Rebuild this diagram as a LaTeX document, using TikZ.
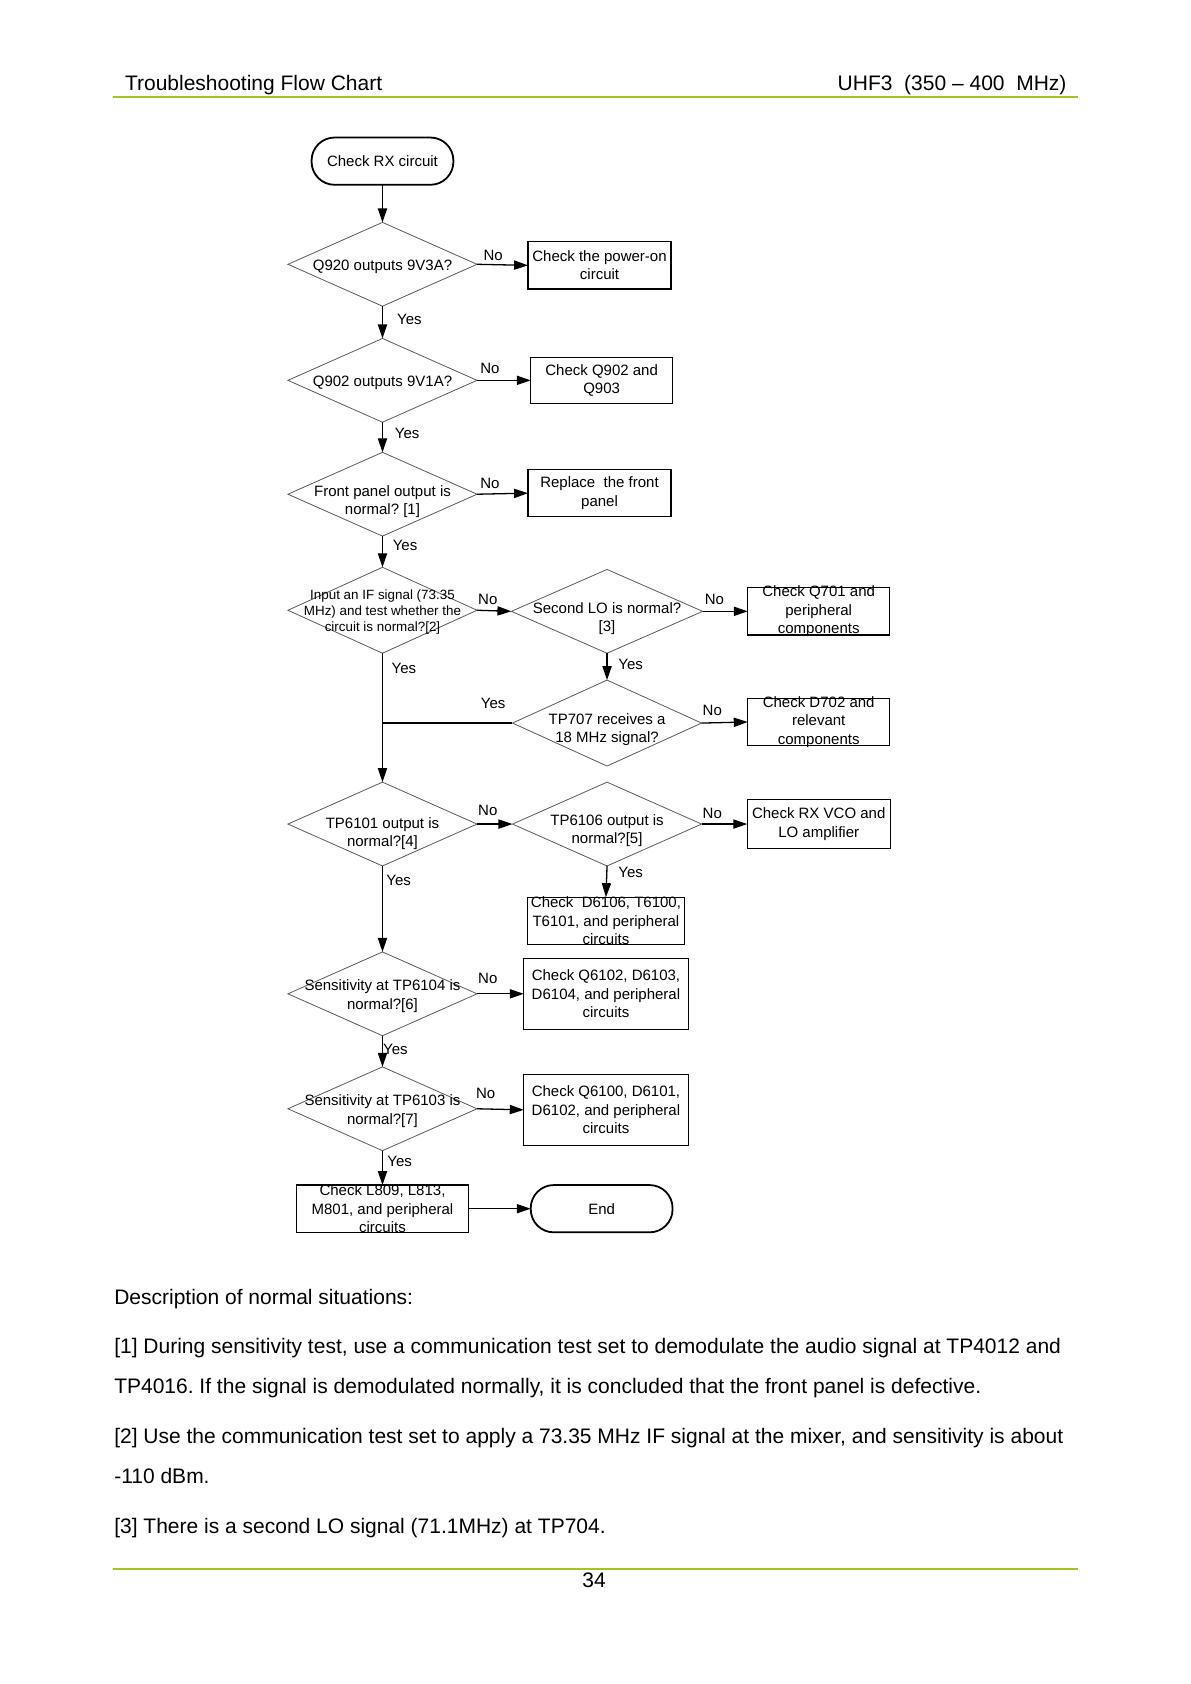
\documentclass[tikz,border=0pt]{standalone}
\usepackage{fontspec}
\setmainfont{Liberation Sans}
\usetikzlibrary{shapes.geometric,arrows.meta}
\newdimen\pxu \pxu=0.5372pt
\definecolor{hdrgreen}{RGB}{162,196,34}
\newcommand\fcfont{\fontsize{7.5}{9.2}\selectfont}
\newcommand\fcsmall{\fontsize{6.7}{8}\selectfont}
\newcommand\bodyfont{\fontsize{10.5}{12}\selectfont}
\frenchspacing
\begin{document}
\begin{tikzpicture}[x=0.5372pt,y=-0.5372pt,
  dia/.style={diamond, draw=black!65, line width=0.4pt, minimum width=176\pxu, minimum height=78\pxu, inner sep=0pt, outer sep=0pt},
  box/.style={rectangle, draw=black, line width=0.6pt, inner sep=0pt, outer sep=0pt},
  term/.style={rectangle, rounded corners=11.5pt, draw=black, line width=0.9pt, minimum width=132\pxu, minimum height=44\pxu, inner sep=0pt, outer sep=0pt, font=\fcfont},
  txt/.style={font=\fcfont, align=center, inner sep=0pt},
  lbl/.style={font=\fcfont, inner sep=0pt},
  body/.style={font=\bodyfont, anchor=base west, inner sep=0pt},
  arr/.style={-{Triangle[length=7pt,width=4.6pt]}, line width=0.65pt},
  ln/.style={line width=0.65pt},
  rule/.style={draw=hdrgreen, line width=1.1pt}]
\useasboundingbox (0,0) rectangle (1108.2,1567.4);
% header
\node[font=\bodyfont, anchor=base west, inner sep=0pt] (hl) at (116,84) {Troubleshooting Flow Chart};
\node[font=\bodyfont, anchor=base east, inner sep=0pt] (hr) at (993,84) {UHF3\ \ (350 – 400\ \ MHz)};
\coordinate (r1a) at (105,90); \coordinate (r1b) at (1003,90);
\draw[rule] (r1a) -- (r1b);
% flowchart shapes
\node[term] (start) at (356,150) {Check RX circuit};
\node[dia] (d1) at (356,246) {};
\node[txt] (d1t) at (356,248) {Q920 outputs 9V3A?};
\node[box, minimum width=133\pxu, minimum height=44\pxu] (b1) at (558,247) {};
\node[txt] (b1t) at (b1.center) {Check the power-on\\circuit};
\node[dia] (d2) at (356,354) {};
\node[txt] (d2t) at (356,356) {Q902 outputs 9V1A?};
\node[box, minimum width=132\pxu, minimum height=43\pxu] (b2) at (560,354) {};
\node[txt] (b2t) at (b2.center) {Check Q902 and\\Q903};
\node[dia] (d3) at (356,460) {};
\node[txt] (d3t) at (356,467) {Front panel output is\\normal? [1]};
\node[box, minimum width=133\pxu, minimum height=44\pxu] (b3) at (558,459) {};
\node[txt] (b3t) at (b3.center) {Replace\ \ the front\\panel};
\node[dia, minimum height=80\pxu] (d4) at (356,568) {};
\node[txt, font=\fcsmall] (d4t) at (356,570) {Input an IF signal (73.35\\MHz) and test whether the\\circuit is normal?[2]};
\node[dia, minimum width=178\pxu] (d5) at (565,569) {};
\node[txt] (d5t) at (565,576) {Second LO is normal?\\{[3]}};
\node[box, minimum width=132\pxu, minimum height=44\pxu] (b5) at (762,569) {};
\node[txt] (b5t) at (b5.center) {Check Q701 and\\peripheral\\components};
\node[dia, minimum height=80\pxu] (d6) at (565,673) {};
\node[txt] (d6t) at (565,679) {TP707 receives a\\18 MHz signal?};
\node[box, minimum width=132\pxu, minimum height=44\pxu] (b6) at (762,672) {};
\node[txt] (b6t) at (b6.center) {Check D702 and\\relevant\\components};
\coordinate (j) at (356,673);
\node[dia] (d7) at (356,767) {};
\node[txt] (d7t) at (356,776) {TP6101 output is\\normal?[4]};
\node[dia] (d8) at (565,767) {};
\node[txt] (d8t) at (565,773) {TP6106 output is\\normal?[5]};
\node[box, minimum width=133\pxu, minimum height=45\pxu] (b8) at (762,767) {};
\node[txt] (b8t) at (b8.center) {Check RX VCO and\\LO amplifier};
\node[box, minimum width=146\pxu, minimum height=44\pxu] (b8y) at (564,857) {};
\node[txt] (b8yt) at (b8y.center) {Check\ \ D6106, T6100,\\T6101, and peripheral\\circuits};
\node[dia] (d9) at (356,925) {};
\node[txt] (d9t) at (356,927) {Sensitivity at TP6104 is\\normal?[6]};
\node[box, minimum width=153\pxu, minimum height=66\pxu] (b9) at (564,925) {};
\node[txt] (b9t) at (b9.center) {Check Q6102, D6103,\\D6104, and peripheral\\circuits};
\node[dia] (d10) at (356,1032) {};
\node[txt] (d10t) at (356,1034) {Sensitivity at TP6103 is\\normal?[7]};
\node[box, minimum width=153\pxu, minimum height=66\pxu] (b10) at (564,1033) {};
\node[txt] (b10t) at (b10.center) {Check Q6100, D6101,\\D6102, and peripheral\\circuits};
\node[box, minimum width=160\pxu, minimum height=44\pxu] (b11) at (356,1125) {};
\node[txt] (b11t) at (b11.center) {Check L809, L813,\\M801, and peripheral\\circuits};
\node[term] (end) at (560,1125) {End};
% connectors
\draw[arr] (start.south) -- (d1.north);
\draw[arr] (d1.east) -- (b1.west);
\draw[arr] (d1.south) -- (d2.north);
\draw[arr] (d2.east) -- (b2.west);
\draw[arr] (d2.south) -- (d3.north);
\draw[arr] (d3.east) -- (b3.west);
\draw[arr] (d3.south) -- (d4.north);
\draw[arr] (d4.east) -- (d5.west);
\draw[arr] (d5.east) -- (b5.west);
\draw[arr] (d5.south) -- (d6.north);
\draw[arr] (d6.east) -- (b6.west);
\draw[ln] (d4.south) -- (j);
\draw[ln] (d6.west) -- (j);
\draw[arr] (j) -- (d7.north);
\draw[arr] (d7.east) -- (d8.west);
\draw[arr] (d8.east) -- (b8.west);
\draw[arr] (d8.south) -- (b8y.north);
\draw[arr] (d7.south) -- (d9.north);
\draw[arr] (d9.east) -- (b9.west);
\draw[arr] (d9.south) -- (d10.north);
\draw[arr] (d10.east) -- (b10.west);
\draw[arr] (d10.south) -- (b11.north);
\draw[arr] (b11.east) -- (end.west);
% labels
\node[lbl] (l1) at (459,238) {No};
\node[lbl] (l2) at (381,297) {Yes};
\node[lbl] (l3) at (456,343) {No};
\node[lbl] (l4) at (379,403) {Yes};
\node[lbl] (l5) at (456,450) {No};
\node[lbl] (l6) at (377,508) {Yes};
\node[lbl] (l7) at (454,558) {No};
\node[lbl] (l8) at (665,558) {No};
\node[lbl] (l9) at (587,618) {Yes};
\node[lbl] (l10) at (376,622) {Yes};
\node[lbl] (l11) at (459,655) {Yes};
\node[lbl] (l12) at (663,661) {No};
\node[lbl] (l13) at (454,754) {No};
\node[lbl] (l14) at (663,757) {No};
\node[lbl] (l15) at (587,812) {Yes};
\node[lbl] (l16) at (371,819) {Yes};
\node[lbl] (l17) at (454,911) {No};
\node[lbl] (l18) at (368,977) {Yes};
\node[lbl] (l19) at (452,1018) {No};
\node[lbl] (l20) at (372,1081) {Yes};
% description
\node[body] (p0) at (106,1214) {Description of normal situations:};
\node[body] (p1) at (106,1260) {[1] During sensitivity test, use a communication test set to demodulate the audio signal at TP4012 and};
\node[body] (p1b) at (106,1297) {TP4016. If the signal is demodulated normally, it is concluded that the front panel is defective.};
\node[body] (p2) at (106,1344) {[2] Use the communication test set to apply a 73.35 MHz IF signal at the mixer, and sensitivity is about};
\node[body] (p2b) at (106,1381) {-110 dBm.};
\node[body] (p3) at (106,1427) {[3] There is a second LO signal (71.1MHz) at TP704.};
% footer
\coordinate (r2a) at (105,1460); \coordinate (r2b) at (1003,1460);
\draw[rule] (r2a) -- (r2b);
\node[font=\bodyfont, anchor=base, inner sep=0pt] (pg) at (553,1478) {34};
\end{tikzpicture}
\end{document}
